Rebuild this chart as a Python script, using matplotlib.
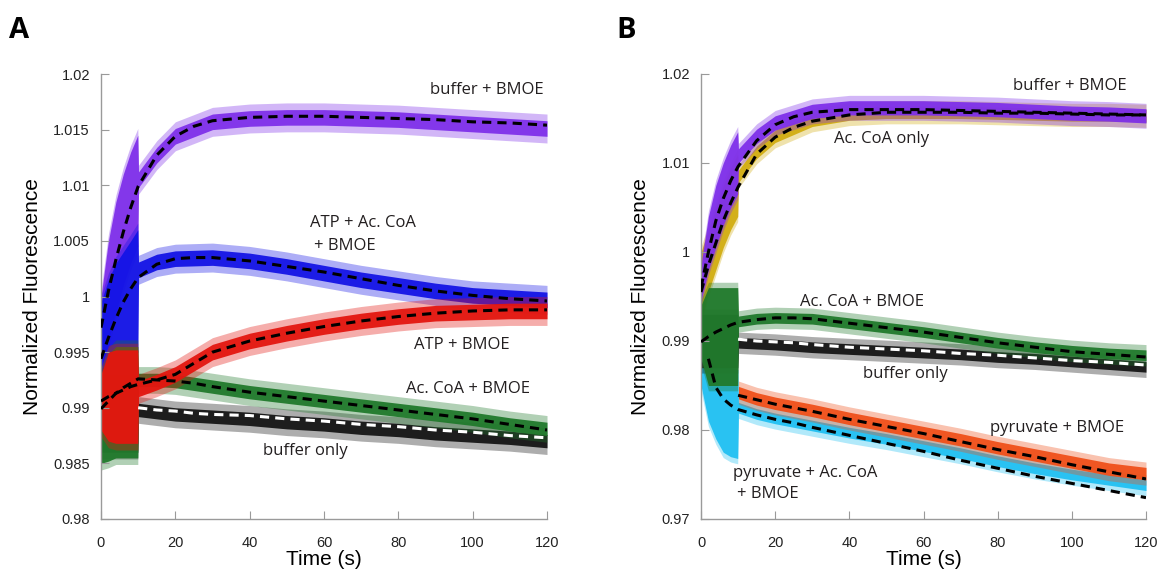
import numpy as np
import matplotlib.pyplot as plt

# time grids (s)
trace_t = [0, 2, 4, 6, 8, 9.9, 10.1, 15, 20, 30, 40, 50, 60, 70, 80, 90, 100, 110, 120]
fit_t = [0, 2, 4, 6, 8, 10, 15, 20, 25, 30, 40, 50, 60, 70, 80, 90, 100, 110, 120]
nan = np.nan

# ---- panel A : traces (centre, half width of the noise) ----
a_purple_mid = [0.9965, 1.0005, 1.0035, 1.0060, 1.0080, 1.0095, 1.0105, 1.0127, 1.0144, 1.0157, 1.0160, 1.0161, 1.0161, 1.0160, 1.0159, 1.0157, 1.0155, 1.0153, 1.0151]
a_purple_hw = [0.0035, 0.0045, 0.0050, 0.0050, 0.0050, 0.0050, 0.0007, 0.0007, 0.0007, 0.0007, 0.0007, 0.0007, 0.0007, 0.0007, 0.0007, 0.0007, 0.0007, 0.0007, 0.0007]
a_blue_mid = [0.9950, 0.9965, 0.9980, 0.9990, 0.9998, 1.0005, 1.0024, 1.0031, 1.0034, 1.0035, 1.0032, 1.0027, 1.0021, 1.0015, 1.0010, 1.0005, 1.0001, 0.9999, 0.9997]
a_blue_hw = [0.0045, 0.0050, 0.0050, 0.0050, 0.0052, 0.0055, 0.0007, 0.0007, 0.0007, 0.0007, 0.0007, 0.0007, 0.0007, 0.0007, 0.0007, 0.0007, 0.0007, 0.0007, 0.0007]
a_red_mid = [0.9905, 0.9910, 0.9910, 0.9910, 0.9910, 0.9910, 0.9917, 0.9923, 0.9930, 0.9950, 0.9960, 0.9967, 0.9973, 0.9978, 0.9982, 0.9985, 0.9986, 0.9987, 0.9987]
a_red_hw = [0.0025, 0.0040, 0.0042, 0.0042, 0.0042, 0.0042, 0.0007, 0.0007, 0.0007, 0.0007, 0.0007, 0.0007, 0.0007, 0.0007, 0.0007, 0.0007, 0.0007, 0.0007, 0.0007]
a_green_mid = [0.9890, 0.9900, 0.9905, 0.9905, 0.9905, 0.9905, 0.9925, 0.9925, 0.9924, 0.9919, 0.9914, 0.9910, 0.9906, 0.9902, 0.9898, 0.9894, 0.9890, 0.9885, 0.9881]
a_green_hw = [0.0040, 0.0048, 0.0050, 0.0050, 0.0050, 0.0050, 0.0006, 0.0006, 0.0006, 0.0006, 0.0006, 0.0006, 0.0006, 0.0006, 0.0006, 0.0006, 0.0006, 0.0006, 0.0006]
a_black_mid = [0.9895, 0.9895, 0.9895, 0.9895, 0.9895, 0.9895, 0.9898, 0.9896, 0.9894, 0.9892, 0.9890, 0.9887, 0.9885, 0.9882, 0.9880, 0.9877, 0.9875, 0.9873, 0.9870]
a_black_hw = [0.0035, 0.0035, 0.0035, 0.0035, 0.0035, 0.0035, 0.0006, 0.0006, 0.0006, 0.0006, 0.0006, 0.0006, 0.0006, 0.0006, 0.0006, 0.0006, 0.0006, 0.0006, 0.0006]

# ---- panel A : fits ----
a_purple_fit = [0.9972, 1.0005, 1.0033, 1.0058, 1.0080, 1.0099, 1.0127, 1.0144, 1.0153, 1.0158, 1.0161, 1.0162, 1.0162, 1.0161, 1.0160, 1.0159, 1.0157, 1.0156, 1.0154]
a_blue_fit = [0.9944, 0.9963, 0.9980, 0.9995, 1.0007, 1.0017, 1.0029, 1.0034, 1.0035, 1.0035, 1.0032, 1.0027, 1.0022, 1.0016, 1.0010, 1.0005, 1.0001, 0.9998, 0.9996]
a_red_fit = [0.9906, 0.9910, 0.9913, 0.9916, 0.9919, 0.9921, 0.9925, 0.9930, 0.9940, 0.9950, 0.9960, 0.9967, 0.9973, 0.9978, 0.9982, 0.9985, 0.9987, 0.9988, 0.9988]
a_green_fit = [0.9899, 0.9906, 0.9913, 0.9918, 0.9922, 0.9926, 0.9925, 0.9924, 0.9922, 0.9919, 0.9914, 0.9910, 0.9906, 0.9902, 0.9898, 0.9894, 0.9890, 0.9885, 0.9880]
a_black_fit = [nan, nan, nan, nan, nan, 0.9900, 0.9898, 0.9897, 0.9895, 0.9894, 0.9893, 0.9890, 0.9888, 0.9885, 0.9883, 0.9880, 0.9878, 0.9875, 0.9873]

# ---- panel B : traces ----
b_gold_mid = [0.9960, 0.9990, 1.0015, 1.0040, 1.0060, 1.0075, 1.0085, 1.0112, 1.0130, 1.0148, 1.0155, 1.0157, 1.0157, 1.0157, 1.0156, 1.0155, 1.0154, 1.0154, 1.0153]
b_gold_hw = [0.0040, 0.0035, 0.0035, 0.0035, 0.0035, 0.0035, 0.0007, 0.0007, 0.0007, 0.0007, 0.0007, 0.0007, 0.0007, 0.0007, 0.0007, 0.0007, 0.0007, 0.0007, 0.0007]
b_purple_mid = [0.9965, 1.0010, 1.0040, 1.0065, 1.0085, 1.0100, 1.0108, 1.0130, 1.0145, 1.0158, 1.0162, 1.0162, 1.0162, 1.0161, 1.0160, 1.0158, 1.0156, 1.0155, 1.0153]
b_purple_hw = [0.0020, 0.0030, 0.0035, 0.0035, 0.0035, 0.0035, 0.0008, 0.0008, 0.0008, 0.0008, 0.0008, 0.0008, 0.0008, 0.0008, 0.0008, 0.0008, 0.0008, 0.0008, 0.0008]
b_cyan_mid = [0.9880, 0.9850, 0.9835, 0.9825, 0.9820, 0.9818, 0.9825, 0.9818, 0.9813, 0.9805, 0.9797, 0.9790, 0.9782, 0.9774, 0.9765, 0.9757, 0.9750, 0.9744, 0.9738]
b_cyan_hw = [0.0030, 0.0040, 0.0045, 0.0050, 0.0050, 0.0050, 0.0006, 0.0006, 0.0006, 0.0006, 0.0006, 0.0006, 0.0006, 0.0006, 0.0006, 0.0006, 0.0006, 0.0006, 0.0006]
b_orange_mid = [nan, nan, nan, nan, nan, nan, 0.9842, 0.9835, 0.9830, 0.9822, 0.9813, 0.9805, 0.9797, 0.9789, 0.9780, 0.9772, 0.9764, 0.9756, 0.9751]
b_orange_hw = [nan, nan, nan, nan, nan, nan, 0.0007, 0.0007, 0.0007, 0.0007, 0.0007, 0.0007, 0.0007, 0.0007, 0.0007, 0.0007, 0.0007, 0.0007, 0.0007]
b_black_mid = [0.9900, 0.9900, 0.9900, 0.9900, 0.9900, 0.9900, 0.9898, 0.9897, 0.9896, 0.9893, 0.9891, 0.9889, 0.9887, 0.9885, 0.9882, 0.9880, 0.9877, 0.9874, 0.9871]
b_black_hw = [0.0030, 0.0030, 0.0030, 0.0030, 0.0030, 0.0030, 0.0006, 0.0006, 0.0006, 0.0006, 0.0006, 0.0006, 0.0006, 0.0006, 0.0006, 0.0006, 0.0006, 0.0006, 0.0006]
b_green_mid = [0.9910, 0.9905, 0.9905, 0.9905, 0.9905, 0.9905, 0.9922, 0.9925, 0.9926, 0.9925, 0.9920, 0.9915, 0.9910, 0.9904, 0.9898, 0.9893, 0.9889, 0.9886, 0.9884]
b_green_hw = [0.0030, 0.0055, 0.0055, 0.0055, 0.0055, 0.0055, 0.0006, 0.0006, 0.0006, 0.0006, 0.0006, 0.0006, 0.0006, 0.0006, 0.0006, 0.0006, 0.0006, 0.0006, 0.0006]

# ---- panel B : fits ----
b_purple_fit = [0.9960, 1.0000, 1.0035, 1.0060, 1.0080, 1.0096, 1.0125, 1.0143, 1.0152, 1.0157, 1.0160, 1.0160, 1.0160, 1.0159, 1.0158, 1.0157, 1.0156, 1.0155, 1.0154]
b_gold_fit = [0.9955, 0.9985, 1.0010, 1.0035, 1.0055, 1.0073, 1.0110, 1.0129, 1.0140, 1.0147, 1.0154, 1.0157, 1.0157, 1.0157, 1.0156, 1.0156, 1.0155, 1.0154, 1.0154]
b_green_fit = [0.9899, 0.9905, 0.9910, 0.9914, 0.9918, 0.9921, 0.9924, 0.9926, 0.9926, 0.9925, 0.9920, 0.9915, 0.9910, 0.9904, 0.9898, 0.9893, 0.9888, 0.9885, 0.9882]
b_black_fit = [nan, nan, nan, nan, nan, 0.9902, 0.9900, 0.9899, 0.9898, 0.9896, 0.9893, 0.9891, 0.9889, 0.9886, 0.9884, 0.9881, 0.9878, 0.9876, 0.9873]
b_orange_fit = [nan, nan, nan, nan, nan, 0.9839, 0.9834, 0.9829, 0.9825, 0.9821, 0.9812, 0.9804, 0.9796, 0.9787, 0.9778, 0.9770, 0.9761, 0.9753, 0.9745]
b_cyan_fit = [nan, 0.9880, 0.9848, 0.9835, 0.9828, 0.9823, 0.9817, 0.9812, 0.9808, 0.9803, 0.9794, 0.9785, 0.9776, 0.9766, 0.9757, 0.9748, 0.9740, 0.9732, 0.9724]

a_yticks = [0.98, 0.985, 0.99, 0.995, 1.0, 1.005, 1.01, 1.015, 1.02]
b_yticks = [0.97, 0.98, 0.99, 1.0, 1.01, 1.02]
xticks = [0, 20, 40, 60, 80, 100, 120]

purple = '#7f30ea'
blue = '#1414e6'
red = '#e4160f'
green = '#217a2c'
black = '#151515'
gold = '#d2ae12'
orange = '#f0501a'
cyan = '#22c0f2'
txt = '#231f20'


def draw_trace(ax, mid, hw, color):
    t = np.array(trace_t)
    mid = np.array(mid)
    hw = np.array(hw)
    ax.fill_between(t, mid - hw - 0.0006, mid + hw + 0.0006, color=color, alpha=0.35, lw=0)
    ax.fill_between(t, mid - hw, mid + hw, color=color, alpha=0.95, lw=0)


def draw_fit(ax, vals, color='black'):
    ax.plot(fit_t, vals, color=color, lw=2.2, ls=(0, (3.0, 2.0)), zorder=5)


def style_axes(ax, yticks):
    ax.set_xlim(0, 120)
    ax.set_ylim(yticks[0], yticks[-1])
    ax.set_xticks(xticks)
    ax.set_yticks(yticks)
    ax.set_yticklabels(['%g' % v for v in yticks])
    for s in ['top', 'right']:
        ax.spines[s].set_visible(False)
    for s in ['left', 'bottom']:
        ax.spines[s].set_color('#9a9a9a')
        ax.spines[s].set_linewidth(1.0)
    ax.tick_params(axis='both', direction='in', length=6, color='#9a9a9a',
                   labelsize=10.5, labelcolor='#222222')
    ax.tick_params(axis='x', pad=12)
    ax.tick_params(axis='y', pad=8)
    ax.set_xlabel('Time (s)', fontsize=15, labelpad=0, family='Liberation Sans')
    ax.set_ylabel('Normalized Fluorescence', fontsize=15, labelpad=8, family='Liberation Sans')
    for lab in ax.get_xticklabels() + ax.get_yticklabels():
        lab.set_family('Liberation Sans')


fig = plt.figure(figsize=(11.6, 5.71), dpi=100)
axA = fig.add_axes([101 / 1160, 52 / 571, 446 / 1160, 445 / 571])
axB = fig.add_axes([701 / 1160, 52 / 571, 445 / 1160, 445 / 571])

# panel A
draw_trace(axA, a_purple_mid, a_purple_hw, purple)
draw_trace(axA, a_blue_mid, a_blue_hw, blue)
draw_trace(axA, a_black_mid, a_black_hw, black)
draw_trace(axA, a_green_mid, a_green_hw, green)
draw_trace(axA, a_red_mid, a_red_hw, red)
draw_fit(axA, a_purple_fit)
draw_fit(axA, a_blue_fit)
draw_fit(axA, a_red_fit)
draw_fit(axA, a_green_fit)
draw_fit(axA, a_black_fit, 'white')
style_axes(axA, a_yticks)

fs = 12
tf = dict(fontsize=fs, family='Open Sans', color=txt)
axA.text(119, 1.0186, 'buffer + BMOE', ha='right', va='center', **tf)
axA.text(56.3, 1.0066, 'ATP + Ac. CoA', ha='left', va='center', **tf)
axA.text(57.3, 1.0045, '+ BMOE', ha='left', va='center', **tf)
axA.text(97.1, 0.9956, 'ATP + BMOE', ha='center', va='center', **tf)
axA.text(98.7, 0.9917, 'Ac. CoA + BMOE', ha='center', va='center', **tf)
axA.text(55.1, 0.9861, 'buffer only', ha='center', va='center', **tf)

# panel B
draw_trace(axB, b_gold_mid, b_gold_hw, gold)
draw_trace(axB, b_purple_mid, b_purple_hw, purple)
draw_trace(axB, b_cyan_mid, b_cyan_hw, cyan)
draw_trace(axB, b_orange_mid, b_orange_hw, orange)
draw_trace(axB, b_black_mid, b_black_hw, black)
draw_trace(axB, b_green_mid, b_green_hw, green)
draw_fit(axB, b_purple_fit)
draw_fit(axB, b_gold_fit)
draw_fit(axB, b_green_fit)
draw_fit(axB, b_orange_fit)
draw_fit(axB, b_cyan_fit)
draw_fit(axB, b_black_fit, 'white')
style_axes(axB, b_yticks)

axB.text(99.4, 1.0187, 'buffer + BMOE', ha='center', va='center', **tf)
axB.text(48.6, 1.0127, 'Ac. CoA only', ha='center', va='center', **tf)
axB.text(43.4, 0.9944, 'Ac. CoA + BMOE', ha='center', va='center', **tf)
axB.text(55.2, 0.9863, 'buffer only', ha='center', va='center', **tf)
axB.text(95.9, 0.9802, 'pyruvate + BMOE', ha='center', va='center', **tf)
axB.text(8.7, 0.9752, 'pyruvate + Ac. CoA', ha='left', va='center', **tf)
axB.text(9.7, 0.9728, '+ BMOE', ha='left', va='center', **tf)

fig.text(9 / 1160, 1 - 38 / 571, 'A', fontsize=21, fontweight='bold', family='Open Sans', va='baseline')
fig.text(616 / 1160, 1 - 38 / 571, 'B', fontsize=21, fontweight='bold', family='Open Sans', va='baseline')

fig.savefig('out.png', dpi=100)
